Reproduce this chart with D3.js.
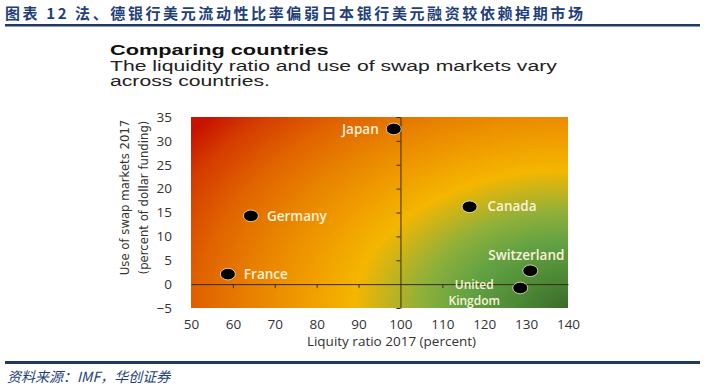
<!DOCTYPE html>
<html>
<head>
<meta charset="utf-8">
<script src="https://cdn.jsdelivr.net/npm/d3@7"></script>
<style>
  body { margin: 0; background: #fff; }
  .tick text { font-family: "Open Sans", sans-serif; fill: #333; }
</style>
</head>
<body>
<div id="chart"></div>
<script>
// chart data
var countries = ["Japan", "Germany", "France", "Canada", "Switzerland", "United Kingdom"];
var liquidity = [98.4, 64.3, 58.8, 116.5, 131, 128.6];
var swapUse = [32.5, 14.3, 2.1, 16.2, 2.8, -0.8];

var xTicks = [50, 60, 70, 80, 90, 100, 110, 120, 130, 140];
var yTicks = [-5, 0, 5, 10, 15, 20, 25, 30, 35];
var crossXTicks = [60, 70, 80, 90, 110, 120, 130];
var crossYTicks = [-5, 5, 10, 15, 20, 25, 30, 35];

var svgWidth = 705;
var svgHeight = 389;

var margin = {
  top: 117,
  right: 137,
  bottom: 81,
  left: 191
};

var width = svgWidth - margin.left - margin.right;
var height = svgHeight - margin.top - margin.bottom;

var svg = d3.select("#chart")
  .append("svg")
  .attr("width", svgWidth)
  .attr("height", svgHeight);

// ---- report header / footer ----
svg.append("text")
  .attr("x", 5)
  .attr("y", 19)
  .attr("font-family", "Noto Sans CJK SC")
  .attr("font-weight", "bold")
  .attr("font-size", "15px")
  .attr("letter-spacing", "2.6px")
  .attr("fill", "#1f3f7a")
  .text("图表 12 法、德银行美元流动性比率偏弱日本银行美元融资较依赖掉期市场");

svg.append("rect")
  .attr("x", 5).attr("y", 24)
  .attr("width", 695).attr("height", 2.5)
  .attr("fill", "#1f3864");

svg.append("rect")
  .attr("x", 5).attr("y", 361)
  .attr("width", 695).attr("height", 3)
  .attr("fill", "#1f3864");

svg.append("text")
  .attr("x", 7)
  .attr("y", 382)
  .attr("font-family", "Noto Sans CJK SC")
  .attr("font-style", "italic")
  .attr("font-size", "14px")
  .attr("fill", "#1f3f7a")
  .text("资料来源：IMF，华创证券");

// chart heading (source image is stretched sideways)
var head = svg.append("g")
  .attr("transform", "translate(110,0) scale(1.45,1)")
  .attr("font-family", "Liberation Sans, Arial, sans-serif")
  .attr("fill", "#222");

head.append("text")
  .attr("y", 55)
  .attr("font-size", "15px")
  .attr("font-weight", "bold")
  .attr("fill", "#111")
  .text("Comparing countries");

head.append("text")
  .attr("y", 71)
  .attr("font-size", "14.6px")
  .text("The liquidity ratio and use of swap markets vary");

head.append("text")
  .attr("y", 86)
  .attr("font-size", "14.6px")
  .text("across countries.");

// ---- plot ----
var chartGroup = svg.append("g")
  .attr("transform", `translate(${margin.left}, ${margin.top})`);

var xScale = d3.scaleLinear().domain([50, 140]).range([0, width]);
var yScale = d3.scaleLinear().domain([-5, 35]).range([height, 0]);

// background gradient, centred on the bottom-right corner
var defs = svg.append("defs");
var grad = defs.append("radialGradient")
  .attr("id", "bg")
  .attr("gradientUnits", "userSpaceOnUse")
  .attr("cx", 0).attr("cy", 0).attr("r", 1)
  .attr("gradientTransform", `translate(${width}, ${height}) scale(${width * 1.23}, ${height * 1.57})`);

var stops = [
  [0.00, "#3b6a2b"],
  [0.10, "#4c8734"],
  [0.22, "#62a243"],
  [0.32, "#8fb03a"],
  [0.40, "#c9b41a"],
  [0.46, "#f4b600"],
  [0.56, "#f09e00"],
  [0.68, "#e88200"],
  [0.80, "#e06200"],
  [0.92, "#d43a00"],
  [1.00, "#c81200"]
];
grad.selectAll("stop")
  .data(stops)
  .enter()
  .append("stop")
  .attr("offset", d => d[0])
  .attr("stop-color", d => d[1]);

chartGroup.append("rect")
  .attr("width", width)
  .attr("height", height)
  .attr("fill", "url(#bg)");

// outer tick labels
var bottomAxis = d3.axisBottom(xScale).tickValues(xTicks).tickSize(0).tickPadding(11);
var leftAxis = d3.axisLeft(yScale).tickValues(yTicks).tickSize(0).tickPadding(19);

chartGroup.append("g")
  .attr("transform", `translate(0, ${height})`)
  .call(bottomAxis)
  .call(g => g.select(".domain").remove())
  .selectAll("text")
  .attr("font-size", "13.5px");

chartGroup.append("g")
  .call(leftAxis)
  .call(g => g.select(".domain").remove())
  .selectAll("text")
  .attr("font-size", "13.5px");

// crossing axes at y = 0 and x = 100
chartGroup.append("g")
  .attr("transform", `translate(0, ${yScale(0)})`)
  .call(d3.axisBottom(xScale).tickValues(crossXTicks).tickSize(4).tickSizeOuter(0).tickFormat(""))
  .call(g => g.selectAll("path, line").attr("stroke", "#3a2a10"));

chartGroup.append("g")
  .attr("transform", `translate(${xScale(100)}, 0)`)
  .call(d3.axisLeft(yScale).tickValues(crossYTicks).tickSize(4).tickSizeOuter(0).tickFormat(""))
  .call(g => g.selectAll("path, line").attr("stroke", "#3a2a10"));

// axis titles
chartGroup.append("text")
  .attr("x", width / 2 + 12)
  .attr("y", height + 38)
  .attr("text-anchor", "middle")
  .attr("font-family", "Open Sans, sans-serif")
  .attr("font-size", "13.5px")
  .attr("fill", "#333")
  .text("Liquity ratio 2017 (percent)");

var yTitle = chartGroup.append("text")
  .attr("transform", "rotate(-90)")
  .attr("text-anchor", "middle")
  .attr("font-family", "Liberation Sans Narrow, DejaVu Sans Condensed, sans-serif")
  .attr("font-size", "13px")
  .attr("fill", "#333");

yTitle.append("tspan")
  .attr("x", -(height / 2) + 15)
  .attr("y", -62)
  .text("Use of swap markets 2017");

yTitle.append("tspan")
  .attr("x", -(height / 2) + 15)
  .attr("y", -43)
  .text("(percent of dollar funding)");

// points
var points = countries.map((c, i) => ({ name: c, x: liquidity[i], y: swapUse[i] }));

chartGroup.selectAll("ellipse")
  .data(points)
  .enter()
  .append("ellipse")
  .attr("cx", d => xScale(d.x))
  .attr("cy", d => yScale(d.y))
  .attr("rx", 7.5)
  .attr("ry", 5.8)
  .attr("fill", "#000")
  .attr("stroke", "#f4e6c8")
  .attr("stroke-width", 0.8);

// label offsets per country
var labelPos = {
  "Japan": { dx: -15, dy: 0, anchor: "end" },
  "Germany": { dx: 16, dy: 0, anchor: "start" },
  "France": { dx: 16, dy: 0, anchor: "start" },
  "Canada": { dx: 18, dy: 0, anchor: "start" },
  "Switzerland": { dx: -4, dy: -15, anchor: "middle" },
  "United Kingdom": { dx: -46, dy: -3.5, anchor: "middle" }
};

// one text per line so the two-line label keeps clear line boxes
points.forEach(function(d) {
  var p = labelPos[d.name];
  var words = d.name === "United Kingdom" ? ["United", "Kingdom"] : [d.name];
  words.forEach(function(w, i) {
    chartGroup.append("text")
      .attr("class", "clabel")
      .attr("x", xScale(d.x) + p.dx)
      .attr("y", yScale(d.y) + p.dy + i * 16.5)
      .attr("dy", "0.35em")
      .attr("text-anchor", p.anchor)
      .attr("font-family", "Open Sans, sans-serif")
      .attr("font-weight", 600)
      .attr("font-size", words.length > 1 ? "12px" : "13.5px")
      .attr("fill", "#fdf1da")
      .text(w);
  });
});
</script>
</body>
</html>
